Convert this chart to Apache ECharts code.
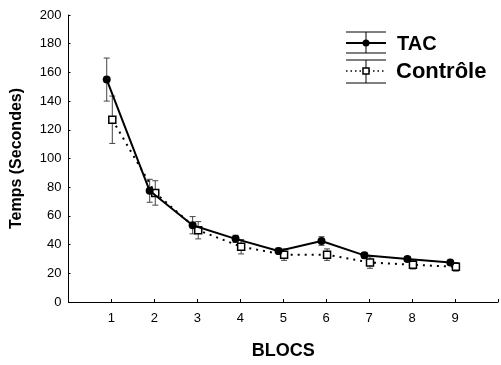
<!DOCTYPE html>
<html>
<head>
<meta charset="utf-8">
<script src="https://cdn.jsdelivr.net/npm/echarts@6/dist/echarts.min.js"></script>
<style>
  html, body { margin: 0; padding: 0; background: #fff; }
  #chart { width: 501px; height: 365px; }
</style>
</head>
<body>
<div id="chart"></div>
<script>
// blocs 1..9
const blocs = [1, 2, 3, 4, 5, 6, 7, 8, 9]
const tacMean = [155, 77.5, 53.5, 44, 35.5, 42.5, 32.5, 30, 27.5]
const tacErr = [15, 8, 6, 2.5, 2, 3, 2, 1.5, 1.5]
const ctrlMean = [127, 76, 50, 38.5, 33, 33, 27.5, 26, 24.5]
const ctrlErr = [16.5, 8.5, 6, 5, 4, 4, 4, 3, 3]
const yTicks = [0, 20, 40, 60, 80, 100, 120, 140, 160, 180, 200]

const FONT = 'Arial, "Liberation Sans", sans-serif'
// petit décalage horizontal entre les deux groupes
const tacShift = -0.11
const ctrlShift = 0.02

const tacPts = blocs.map((b, i) => [b + tacShift, tacMean[i]])
const ctrlPts = blocs.map((b, i) => [b + ctrlShift, ctrlMean[i]])
const tacBars = blocs.map((b, i) => [b + tacShift, tacMean[i] - tacErr[i], tacMean[i] + tacErr[i]])
const ctrlBars = blocs.map((b, i) => [b + ctrlShift, ctrlMean[i] - ctrlErr[i], ctrlMean[i] + ctrlErr[i]])

function errorBar(params, api) {
  const x = api.value(0)
  const lo = api.coord([x, api.value(1)])
  const hi = api.coord([x, api.value(2)])
  const cap = 3
  const style = { stroke: '#444', lineWidth: 1 }
  return {
    type: 'group',
    children: [
      { type: 'line', shape: { x1: lo[0], y1: lo[1], x2: hi[0], y2: hi[1] }, style },
      { type: 'line', shape: { x1: lo[0] - cap, y1: lo[1], x2: lo[0] + cap, y2: lo[1] }, style },
      { type: 'line', shape: { x1: hi[0] - cap, y1: hi[1], x2: hi[0] + cap, y2: hi[1] }, style }
    ]
  }
}

const chart = echarts.init(document.getElementById('chart'))

const option = {
  animation: false,
  textStyle: { fontFamily: FONT },
  grid: { left: 68.5, width: 435, top: 15, bottom: 60, containLabel: false },
  xAxis: {
    type: 'value',
    min: 0,
    max: 10,
    interval: 1,
    name: 'BLOCS',
    nameLocation: 'middle',
    nameGap: 40,
    nameTextStyle: { fontFamily: FONT, fontWeight: 'bold', fontSize: 18, color: '#000' },
    splitLine: { show: false },
    axisLine: { lineStyle: { color: '#000', width: 1 } },
    axisTick: { inside: true, length: 3, lineStyle: { color: '#000' } },
    axisLabel: {
      color: '#000', fontSize: 13, fontFamily: FONT, margin: 10,
      formatter: v => (blocs.indexOf(v) >= 0 ? String(v) : '')
    }
  },
  yAxis: {
    type: 'value',
    min: yTicks[0],
    max: yTicks[yTicks.length - 1],
    interval: 20,
    name: 'Temps (Secondes)',
    nameLocation: 'middle',
    nameGap: 44,
    nameTextStyle: { fontFamily: FONT, fontWeight: 'bold', fontSize: 16, color: '#000' },
    splitLine: { show: false },
    axisLine: { show: true, lineStyle: { color: '#000', width: 1 } },
    axisTick: { show: true, inside: true, length: 2, lineStyle: { color: '#000' } },
    axisLabel: { color: '#000', fontSize: 13, fontFamily: FONT, margin: 7 }
  },
  series: [
    {
      name: 'Contrôle err', type: 'custom', renderItem: errorBar,
      data: ctrlBars, encode: { x: 0, y: [1, 2] }, z: 1
    },
    {
      name: 'TAC err', type: 'custom', renderItem: errorBar,
      data: tacBars, encode: { x: 0, y: [1, 2] }, z: 1
    },
    {
      name: 'Contrôle', type: 'line', data: ctrlPts, z: 3,
      lineStyle: { color: '#000', width: 2, type: [2, 5] },
      symbol: 'rect', symbolSize: 7,
      itemStyle: { color: '#fff', borderColor: '#000', borderWidth: 1.5 }
    },
    {
      name: 'TAC', type: 'line', data: tacPts, z: 4,
      lineStyle: { color: '#000', width: 2 },
      symbol: 'circle', symbolSize: 8,
      itemStyle: { color: '#000' }
    }
  ],
  graphic: [
    // légende
    { type: 'line', shape: { x1: 346, y1: 32, x2: 386, y2: 32 }, style: { stroke: '#000', lineWidth: 1 } },
    { type: 'line', shape: { x1: 346, y1: 43, x2: 386, y2: 43 }, style: { stroke: '#000', lineWidth: 2 } },
    { type: 'line', shape: { x1: 346, y1: 53, x2: 386, y2: 53 }, style: { stroke: '#000', lineWidth: 1 } },
    { type: 'line', shape: { x1: 366, y1: 32, x2: 366, y2: 53 }, style: { stroke: '#000', lineWidth: 1 } },
    { type: 'circle', shape: { cx: 366, cy: 43, r: 3.5 }, style: { fill: '#000' } },
    { type: 'text', left: 397, top: 34, style: { text: 'TAC', font: 'bold 20px ' + FONT, fill: '#000' } },
    { type: 'line', shape: { x1: 346, y1: 60, x2: 386, y2: 60 }, style: { stroke: '#000', lineWidth: 1 } },
    { type: 'line', shape: { x1: 346, y1: 71, x2: 386, y2: 71 }, style: { stroke: '#000', lineWidth: 1.5, lineDash: [1.5, 3] } },
    { type: 'line', shape: { x1: 346, y1: 83, x2: 386, y2: 83 }, style: { stroke: '#000', lineWidth: 1 } },
    { type: 'line', shape: { x1: 366, y1: 60, x2: 366, y2: 83 }, style: { stroke: '#000', lineWidth: 1 } },
    { type: 'rect', shape: { x: 363, y: 68, width: 6, height: 6 }, style: { fill: '#fff', stroke: '#000', lineWidth: 1.5 } },
    { type: 'text', left: 396, top: 61, style: { text: 'Contrôle', font: 'bold 22px ' + FONT, fill: '#000' } }
  ]
}

chart.setOption(option)
window.onresize = function () {
  chart.resize()
}
</script>
</body>
</html>
